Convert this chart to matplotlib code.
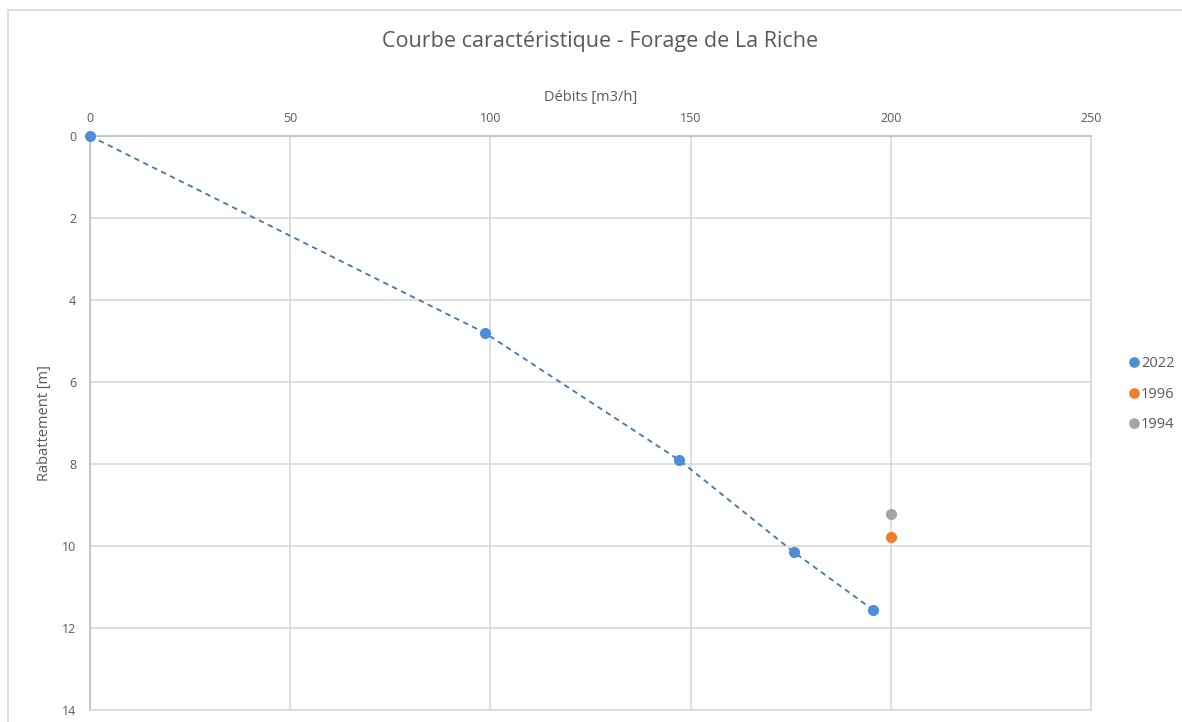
import matplotlib
matplotlib.use("Agg")
import matplotlib.pyplot as plt
from matplotlib.patches import Rectangle

plt.rcParams['font.family'] = ['Open Sans', 'DejaVu Sans']

# Data
q_2022 = [0, 98.6, 147.1, 175.8, 195.6]
s_2022 = [0, 4.80, 7.90, 10.15, 11.56]
q_1996 = [200]
s_1996 = [9.78]
q_1994 = [200]
s_1994 = [9.22]
x_ticks = [0, 50, 100, 150, 200, 250]
y_ticks = [0, 2, 4, 6, 8, 10, 12, 14]

W, H = 1182, 722
fig = plt.figure(figsize=(W / 100, H / 100), dpi=100)

# chart border (extends beyond the image right/bottom)
fig.patches.append(Rectangle((8 / W, -0.1), 1.2, 1 - 10 / H + 0.1,
                             transform=fig.transFigure, fill=False,
                             edgecolor='#D9D9D9', lw=1.2))

ax = fig.add_axes([90 / W, 1 - 710 / H, (1091 - 90) / W, (710 - 136) / H])
ax.set_xlim(0, 250)
ax.set_ylim(14, 0)
ax.set_xticks(x_ticks)
ax.set_yticks(y_ticks)
ax.xaxis.tick_top()
ax.xaxis.set_label_position('top')
ax.grid(True, color='#D9D9D9', lw=1.2)
ax.set_axisbelow(True)
for side in ['right', 'bottom']:
    ax.spines[side].set_color('#D9D9D9')
    ax.spines[side].set_linewidth(1.2)
for side in ['left', 'top']:
    ax.spines[side].set_color('#BFBFBF')
    ax.spines[side].set_linewidth(1.2)
ax.tick_params(length=0, labelsize=9, colors='#595959')
ax.tick_params(axis='x', pad=8)
ax.tick_params(axis='y', pad=10)

ax.plot(q_2022, s_2022, linestyle=(0, (3, 2.5)), color='#3F78B0', lw=1.3, zorder=2)
ax.plot(q_2022, s_2022, 'o', color='#4A8FD8', ms=7, label='2022', zorder=3, clip_on=False)
ax.plot(q_1996, s_1996, 'o', color='#F07C2C', ms=7, label='1996', zorder=3)
ax.plot(q_1994, s_1994, 'o', color='#A5A5A5', ms=7, label='1994', zorder=3)

ax.set_xlabel('Débits [m3/h]', fontsize=10.5, color='#595959', labelpad=8)
ax.set_ylabel('Rabattement [m]', fontsize=10.5, color='#595959', labelpad=7)

fig.text(600 / W, 1 - 41 / H, 'Courbe caractéristique - Forage de La Riche',
         ha='center', va='center', fontsize=15.5, color='#595959')

leg = ax.legend(loc='center left', bbox_to_anchor=(1.025, 0.55), frameon=False,
                fontsize=10.5, handlelength=0.6, handletextpad=0.2,
                labelspacing=1.05, markerscale=0.95)
for t in leg.get_texts():
    t.set_color('#595959')

fig.savefig('out.png', dpi=100)
